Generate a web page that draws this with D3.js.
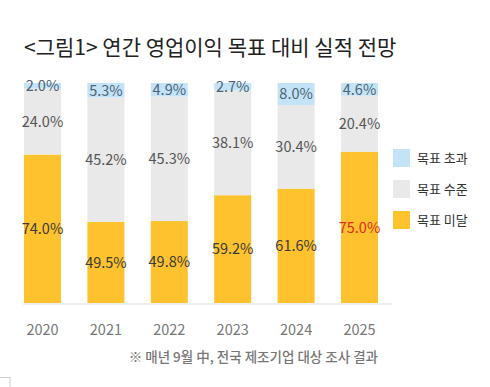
<!DOCTYPE html>
<html>
<head>
<meta charset="utf-8">
<script src="https://cdn.jsdelivr.net/npm/d3@7"></script>
<style>
  body { margin: 0; background: #fff; }
  svg text { font-family: "Noto Sans CJK KR", "Noto Sans", sans-serif; }
</style>
</head>
<body>
<div id="chart"></div>
<script>
// 연도, 구간별 비율 (%)
var years = ["2020", "2021", "2022", "2023", "2024", "2025"]
var miss = [74.0, 49.5, 49.8, 59.2, 61.6, 75.0]     // 목표 미달
var meet = [24.0, 45.2, 45.3, 38.1, 30.4, 20.4]     // 목표 수준
var exceed = [2.0, 5.3, 4.9, 2.7, 8.0, 4.6]         // 목표 초과
var legendLabels = ["목표 초과", "목표 수준", "목표 미달"]

var colors = { exceed: "#c3e4f6", meet: "#e9e9e9", miss: "#fec22e" }

var width = 490, height = 387

var svg = d3.select("#chart").append("svg")
  .attr("width", width)
  .attr("height", height)

// 원본 그림은 y축이 20%부터 시작 (잘린 축)
var x = d3.scaleBand().domain(years).range([10.8, 391.2])
  .paddingInner(0.416).paddingOuter(0.208)
var y = d3.scaleLinear().domain([20, 100]).range([303, 83])

svg.append("text")
  .attr("x", 24).attr("y", 55)
  .attr("font-size", 21)
  .attr("fill", "#222")
  .text("<그림1> 연간 영업이익 목표 대비 실적 전망")

var rows = years.map(function(yr, i) {
  return { year: yr, miss: miss[i], meet: meet[i], exceed: exceed[i] }
})

var stack = d3.stack().keys(["miss", "meet", "exceed"])
var series = stack(rows)

var g = svg.append("g")

g.selectAll(".layer")
  .data(series)
  .enter().append("g")
  .attr("class", "layer")
  .attr("fill", function(d) { return colors[d.key] })
  .selectAll("rect")
  .data(function(d) { return d })
  .enter().append("rect")
  .attr("x", function(d) { return x(d.data.year) })
  .attr("y", function(d) { return y(d[1]) })
  .attr("width", x.bandwidth())
  .attr("height", function(d) { return y(Math.max(d[0], 20)) - y(d[1]) })

// 기준선
svg.append("line")
  .attr("x1", 23).attr("x2", 392)
  .attr("y1", 304).attr("y2", 304)
  .attr("stroke", "#eeeeee").attr("stroke-width", 2)

// 값 라벨
series.forEach(function(s) {
  g.selectAll(".lbl-" + s.key)
    .data(s)
    .enter().append("text")
    .attr("class", "lbl-" + s.key)
    .attr("x", function(d) { return x(d.data.year) + x.bandwidth() / 2 })
    .attr("y", function(d) { return (y(Math.max(d[0], 20)) + y(d[1])) / 2 })
    .attr("dy", "0.36em")
    .attr("text-anchor", "middle")
    .attr("font-size", 14.5)
    .attr("fill", function(d) {
      if (s.key == "miss" && d.data.year == "2025") return "#d9301a"
      if (s.key == "exceed") return "#4d6275"
      if (s.key == "miss") return "#3a3a3a"
      return "#555"
    })
    .text(function(d) { return d.data[s.key].toFixed(1) + "%" })
})

// x축 연도
svg.append("g")
  .attr("transform", "translate(0,330)")
  .call(d3.axisBottom(x).tickSize(0).tickPadding(0))
  .call(function(a) {
    a.select(".domain").remove()
    a.selectAll("text")
      .attr("font-size", 14.5)
      .attr("fill", "#777")
      .attr("dy", "0.36em")
  })

// 범례
var legendKeys = ["exceed", "meet", "miss"]
var legend = svg.append("g").attr("transform", "translate(393,149)")
legendKeys.forEach(function(k, i) {
  legend.append("rect")
    .attr("x", 0).attr("y", i * 31)
    .attr("width", 17).attr("height", 18)
    .attr("fill", colors[k])
  legend.append("text")
    .attr("x", 24).attr("y", i * 31 + 9)
    .attr("dy", "0.36em")
    .attr("font-size", 13)
    .attr("fill", "#333")
    .text(legendLabels[i])
})

svg.append("text")
  .attr("x", 378).attr("y", 357)
  .attr("dy", "0.36em")
  .attr("text-anchor", "end")
  .attr("font-size", 13.5)
  .attr("font-weight", 500)
  .attr("fill", "#777")
  .text("※ 매년 9월 中, 전국 제조기업 대상 조사 결과")

// 좌하단 모서리 조각
svg.append("rect")
  .attr("x", -1).attr("y", 377.5)
  .attr("width", 11).attr("height", 20)
  .attr("fill", "none").attr("stroke", "#cfcfcf")
</script>
</body>
</html>
